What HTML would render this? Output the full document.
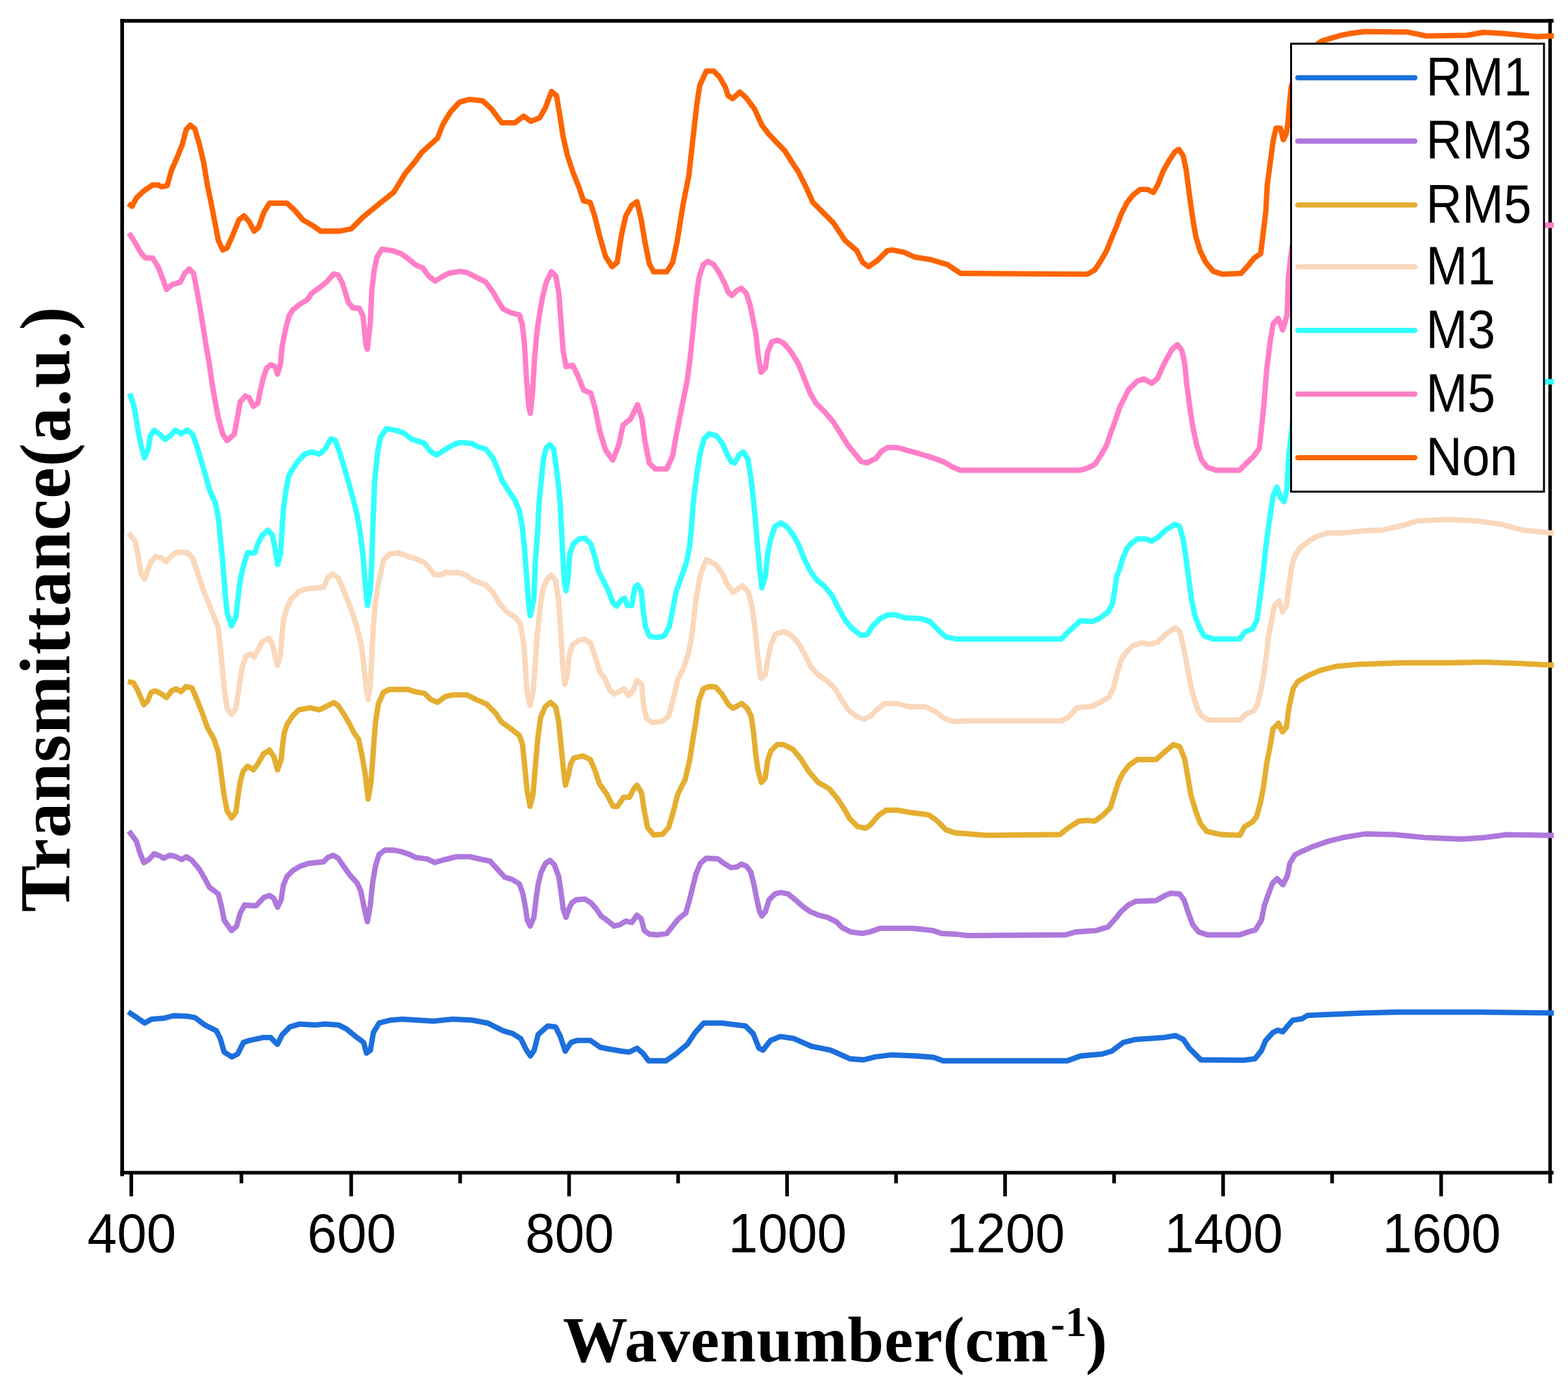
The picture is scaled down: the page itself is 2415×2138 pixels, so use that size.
<!DOCTYPE html>
<html><head><meta charset="utf-8"><title>FTIR spectra</title>
<style>html,body{margin:0;padding:0;background:#fff}body{width:2415px;height:2138px;overflow:hidden}svg{display:block}</style>
</head><body>
<svg width="2415" height="2138" viewBox="0 0 2415 2138">
<style>
.tk{font-family:"Liberation Sans",Arial,sans-serif;font-size:85px;fill:#000}
.lg{font-family:"Liberation Sans",Arial,sans-serif;font-size:77px;fill:#000}
.ttl{font-family:"Liberation Serif","Times New Roman",serif;font-weight:bold;fill:#000}
</style>
<rect width="2415" height="2138" fill="#fff"/>
<g fill="#000"><rect x="185.3" y="29.3" width="2207.5" height="5.6"/><rect x="185.3" y="1803.6" width="2207.5" height="5.5"/><rect x="185.3" y="29.3" width="5.7" height="1782.4"/><rect x="2384.7" y="29.3" width="5.4" height="1779.7"/></g>
<polyline points="201.0,1560.9 207.9,1565.4 222.8,1575.8 233.3,1569.8 252.7,1568.3 267.6,1564.5 288.5,1565.4 300.4,1567.5 315.3,1578.8 333.2,1587.7 339.2,1599.7 345.2,1620.6 357.1,1628.0 366.0,1623.6 375.0,1605.7 384.0,1602.7 404.9,1598.2 416.8,1598.2 427.2,1608.6 434.7,1593.7 446.6,1581.8 461.6,1577.3 485.4,1578.8 500.4,1577.3 521.2,1578.8 533.2,1584.8 548.1,1596.7 560.0,1605.7 564.5,1622.1 570.5,1617.6 575.0,1590.7 583.9,1575.8 601.8,1571.3 619.7,1569.8 667.5,1572.8 697.3,1569.8 727.2,1571.3 751.0,1575.8 774.9,1587.7 790.0,1592.2 801.9,1599.7 810.9,1617.6 816.9,1626.5 822.8,1617.6 828.8,1593.7 843.7,1580.3 855.7,1581.8 863.1,1596.7 870.6,1619.1 879.5,1605.7 888.5,1602.7 909.4,1602.7 924.3,1613.1 939.2,1616.1 957.1,1619.1 969.1,1620.6 981.0,1614.6 989.9,1622.1 998.9,1634.0 1025.7,1634.0 1040.7,1623.6 1058.6,1608.6 1070.5,1590.7 1083.9,1575.8 1112.3,1575.8 1148.1,1580.3 1160.0,1592.2 1169.0,1614.6 1175.0,1617.6 1186.9,1602.7 1201.8,1596.7 1222.7,1599.7 1249.6,1611.6 1279.4,1617.6 1309.3,1631.0 1330.1,1632.5 1348.0,1628.0 1371.9,1625.0 1390.0,1625.6 1410.9,1626.5 1437.7,1628.6 1452.7,1634.0 1643.7,1634.0 1664.5,1626.5 1697.4,1623.6 1712.3,1619.1 1730.2,1605.7 1748.1,1601.2 1792.9,1598.2 1810.8,1595.2 1822.7,1601.2 1831.7,1614.6 1849.6,1632.5 1915.2,1633.1 1932.8,1630.9 1942.8,1618.3 1949.1,1603.1 1960.5,1590.5 1968.0,1586.8 1975.6,1589.3 1983.1,1580.5 1990.7,1571.7 2005.8,1569.1 2013.4,1564.1 2041.1,1562.8 2101.6,1560.3 2152.0,1559.0 2278.0,1559.0 2389.0,1560.3" fill="none" stroke="#1c6fdc" stroke-width="8.3" stroke-linejoin="round" stroke-linecap="square"/><polyline points="201.0,1283.6 210.3,1296.0 214.8,1311.8 221.5,1328.6 229.4,1324.1 237.3,1315.1 246.3,1318.5 251.9,1321.9 262.0,1317.4 271.0,1319.6 280.0,1324.1 286.8,1319.6 295.8,1325.3 307.0,1338.8 316.0,1354.5 322.8,1366.9 336.3,1377.0 340.8,1395.0 345.3,1417.5 356.5,1433.3 364.4,1426.5 370.0,1406.3 376.8,1393.9 388.0,1395.0 394.8,1395.0 406.0,1382.7 415.0,1379.3 421.8,1383.8 427.4,1397.3 433.0,1386.0 436.4,1363.5 442.0,1350.0 451.0,1341.0 462.3,1334.3 475.8,1329.8 498.3,1327.5 505.0,1320.8 513.0,1317.4 520.8,1321.9 527.6,1332.0 538.8,1347.8 550.0,1360.1 555.7,1372.5 560.2,1395.0 565.8,1419.8 570.3,1395.0 573.7,1361.3 578.2,1334.3 583.8,1316.3 592.8,1309.5 606.3,1309.5 617.6,1311.8 631.1,1316.3 640.0,1320.8 658.0,1323.0 669.3,1328.6 685.0,1324.1 703.0,1319.6 723.3,1319.6 743.5,1324.1 754.8,1326.4 766.0,1338.8 777.3,1351.1 788.5,1354.5 799.8,1361.3 805.4,1377.0 808.8,1395.0 812.2,1417.5 816.7,1426.5 822.3,1413.0 825.7,1383.8 829.0,1361.3 833.5,1343.3 840.3,1329.8 847.0,1325.3 853.8,1332.0 860.5,1350.0 863.9,1372.5 867.3,1399.5 871.8,1413.0 876.3,1399.5 880.8,1390.5 887.5,1386.0 901.0,1384.9 910.0,1390.5 918.0,1399.5 925.8,1410.8 934.8,1417.5 946.0,1426.5 955.0,1424.3 964.0,1418.7 973.0,1421.0 981.0,1409.7 987.7,1415.3 992.2,1433.3 1000.0,1439.0 1013.6,1440.0 1027.0,1437.8 1036.0,1426.5 1045.0,1415.3 1056.3,1406.3 1062.0,1386.0 1067.6,1363.5 1072.1,1345.5 1078.8,1329.8 1087.8,1321.9 1105.8,1323.0 1114.8,1329.8 1126.0,1336.5 1135.0,1335.4 1141.8,1330.9 1149.6,1334.3 1156.4,1343.3 1160.9,1361.3 1165.4,1383.8 1169.9,1404.0 1173.3,1410.8 1178.9,1404.0 1184.5,1386.0 1193.5,1377.0 1202.5,1374.8 1213.8,1377.0 1225.0,1386.0 1236.3,1396.2 1247.5,1404.0 1261.0,1409.7 1274.5,1413.0 1288.0,1419.8 1297.0,1428.8 1310.5,1435.5 1328.5,1437.8 1339.8,1435.5 1355.6,1429.9 1405.0,1429.9 1416.3,1431.0 1436.6,1433.3 1450.0,1437.8 1472.6,1439.0 1490.6,1441.2 1641.3,1440.0 1657.0,1435.5 1688.5,1433.3 1706.5,1427.7 1717.8,1415.3 1726.8,1404.0 1738.0,1393.9 1749.3,1388.3 1780.8,1387.2 1794.3,1379.3 1803.3,1375.9 1816.8,1377.0 1823.6,1386.0 1830.3,1406.3 1837.0,1424.3 1846.0,1435.5 1859.6,1440.0 1909.0,1440.0 1922.6,1435.5 1933.8,1432.2 1942.8,1417.5 1947.3,1395.0 1953.0,1378.8 1959.9,1360.4 1966.8,1353.5 1976.0,1362.7 1982.9,1348.9 1986.3,1330.5 1994.4,1316.7 2003.6,1312.1 2022.0,1304.0 2045.0,1296.0 2068.0,1290.2 2102.5,1284.5 2148.4,1285.6 2194.4,1290.2 2252.0,1292.5 2286.4,1290.2 2320.9,1285.6 2389.0,1286.8" fill="none" stroke="#ae78dc" stroke-width="8.3" stroke-linejoin="round" stroke-linecap="square"/><polyline points="201.0,1050.8 205.8,1052.0 212.5,1064.3 221.5,1085.7 227.1,1080.0 232.8,1066.5 239.5,1064.3 248.5,1068.8 256.4,1074.4 264.3,1064.3 271.0,1061.0 278.9,1065.4 286.8,1057.5 295.8,1059.8 302.5,1075.5 311.5,1098.0 319.4,1120.5 329.5,1138.5 336.3,1158.8 340.8,1192.6 345.3,1226.3 349.8,1248.8 356.5,1260.0 363.3,1251.0 366.7,1226.3 370.0,1203.8 374.5,1188.0 381.3,1180.2 390.3,1185.8 397.0,1176.8 406.0,1161.0 415.0,1155.4 421.8,1165.6 427.4,1185.8 433.0,1170.0 435.3,1147.6 437.6,1129.5 442.0,1116.0 451.0,1102.5 460.0,1093.5 478.0,1090.2 491.6,1093.5 505.0,1086.8 514.0,1082.3 520.8,1086.8 529.8,1100.3 538.8,1116.0 545.6,1129.5 552.3,1138.5 558.0,1165.6 562.5,1192.6 567.0,1230.8 571.5,1203.8 574.8,1158.8 578.2,1113.8 582.7,1084.5 590.6,1066.5 599.6,1062.0 628.8,1062.0 640.0,1065.7 653.9,1068.0 663.2,1077.3 673.7,1081.9 686.4,1072.6 698.0,1070.3 718.9,1070.3 732.8,1077.3 749.1,1084.2 763.0,1098.1 772.3,1112.1 788.5,1123.7 800.1,1133.0 804.8,1146.9 808.3,1181.7 811.7,1216.5 816.4,1242.0 821.0,1223.5 824.5,1181.7 828.0,1139.9 832.6,1105.1 839.6,1088.9 847.7,1081.9 855.8,1088.9 860.5,1112.1 864.0,1146.9 867.4,1181.7 870.9,1209.5 875.5,1193.3 879.0,1177.0 883.7,1167.8 897.6,1164.3 909.2,1170.0 916.2,1186.3 923.1,1207.2 934.7,1223.5 944.0,1242.0 951.0,1242.0 960.3,1228.1 969.5,1228.1 975.3,1216.5 981.1,1209.5 988.1,1221.1 992.7,1251.3 997.4,1274.5 1006.7,1286.1 1020.6,1285.0 1029.9,1274.5 1036.8,1251.3 1043.8,1223.5 1055.4,1200.3 1062.4,1170.0 1067.0,1139.9 1071.6,1112.1 1076.3,1079.6 1083.3,1061.0 1092.5,1057.5 1102.2,1058.2 1111.9,1069.1 1121.6,1084.9 1128.9,1091.0 1142.3,1083.7 1150.8,1091.0 1156.9,1103.1 1160.5,1127.4 1164.2,1163.9 1167.8,1188.2 1172.7,1205.2 1178.7,1198.0 1182.4,1171.2 1187.3,1156.6 1197.0,1146.9 1206.7,1146.9 1221.3,1154.2 1233.4,1168.8 1245.6,1188.2 1260.2,1205.2 1277.2,1215.0 1289.4,1229.6 1299.1,1244.1 1308.8,1261.2 1321.0,1273.3 1333.1,1275.8 1340.4,1270.9 1352.6,1256.3 1364.7,1247.8 1381.8,1247.8 1401.2,1251.4 1430.4,1255.1 1442.5,1263.6 1457.1,1278.2 1471.7,1283.0 1491.2,1284.3 1517.9,1286.7 1632.4,1285.5 1644.5,1275.8 1661.6,1264.8 1673.7,1263.6 1685.9,1264.8 1698.0,1256.3 1710.2,1244.1 1716.3,1224.7 1722.4,1205.2 1729.6,1190.7 1739.4,1178.5 1751.5,1170.0 1780.7,1170.0 1792.9,1159.0 1807.4,1146.9 1817.2,1150.5 1824.5,1168.8 1829.3,1195.5 1834.2,1224.7 1841.5,1249.0 1848.8,1268.5 1858.5,1280.6 1880.4,1285.5 1909.6,1286.7 1916.9,1273.3 1929.0,1266.0 1935.1,1258.7 1941.2,1236.9 1946.0,1212.5 1950.9,1176.0 1955.8,1151.8 1960.6,1122.6 1969.1,1114.0 1975.2,1127.4 1981.3,1120.2 1985.0,1091.0 1989.8,1069.1 1992.0,1060.0 1999.0,1049.7 2015.0,1040.5 2033.5,1032.5 2056.5,1026.7 2091.0,1023.3 2160.0,1021.0 2229.0,1021.0 2286.4,1019.8 2344.0,1022.1 2389.0,1024.4" fill="none" stroke="#e4ae30" stroke-width="8.3" stroke-linejoin="round" stroke-linecap="square"/><polyline points="201.0,824.5 208.0,833.5 212.5,853.8 217.0,883.0 222.6,892.0 228.3,876.3 232.8,865.0 239.5,857.2 248.5,859.4 255.3,865.0 264.3,856.0 272.1,850.4 289.0,851.5 295.8,858.3 302.5,876.3 311.5,904.5 320.5,927.0 329.5,949.5 336.3,967.5 339.7,1001.3 343.0,1035.0 346.4,1068.8 349.8,1091.3 356.5,1100.3 363.3,1091.3 366.7,1068.8 370.0,1046.3 373.4,1026.0 379.0,1010.3 385.8,1007.0 391.4,1012.5 397.0,1001.3 403.8,988.9 413.9,983.3 419.5,992.3 424.0,1012.5 427.4,1025.0 432.0,1008.0 434.2,978.8 436.4,956.3 441.0,938.3 448.8,922.5 460.0,911.3 473.6,906.8 498.3,904.5 505.0,889.8 511.8,884.2 520.8,889.8 527.6,905.6 534.3,922.5 543.3,945.0 550.0,967.5 556.8,994.5 560.2,1023.8 563.6,1057.5 567.0,1077.8 570.3,1057.5 572.6,1012.5 574.8,967.5 578.2,927.0 582.7,900.0 590.6,862.8 599.6,853.8 613.0,851.5 628.8,857.2 640.0,860.5 653.5,866.2 660.3,874.0 669.3,885.3 680.5,885.3 685.0,882.0 707.5,882.0 718.8,886.4 730.0,894.3 748.0,901.0 759.3,912.3 768.3,928.0 779.5,941.6 793.0,950.6 801.0,959.6 804.3,977.6 807.1,996.0 809.4,1030.8 811.7,1065.7 816.4,1086.5 821.0,1065.7 824.5,1019.2 828.0,972.8 831.5,938.0 836.1,907.8 841.9,894.0 848.9,885.8 855.8,894.0 860.5,926.4 864.0,977.5 866.3,1019.2 869.7,1054.0 873.2,1042.5 876.7,1010.0 881.4,993.7 890.6,986.8 899.9,984.4 909.2,990.2 916.2,1010.0 923.1,1033.2 932.4,1047.1 939.4,1063.3 946.3,1069.1 961.4,1061.0 968.4,1071.5 975.3,1063.3 981.1,1048.3 988.1,1054.0 991.6,1088.9 996.2,1107.4 1005.5,1113.2 1020.6,1110.9 1029.9,1102.8 1036.8,1077.3 1043.8,1047.1 1053.1,1028.5 1060.0,1007.6 1064.7,984.4 1068.2,956.6 1071.6,926.4 1076.3,898.6 1079.8,882.3 1087.8,862.0 1102.2,869.7 1111.9,881.9 1119.2,898.9 1128.9,912.3 1143.5,902.5 1152.0,911.0 1158.1,933.0 1163.0,969.4 1166.6,1005.9 1171.4,1044.8 1178.7,1039.9 1182.4,1015.6 1187.3,993.7 1194.5,976.7 1206.7,973.0 1216.4,976.7 1228.6,988.9 1238.3,1005.9 1248.0,1025.3 1257.8,1037.5 1274.8,1049.6 1287.0,1061.8 1296.7,1078.8 1306.4,1093.4 1318.5,1103.1 1330.7,1108.0 1340.4,1103.1 1350.1,1093.4 1362.3,1083.7 1381.8,1083.7 1398.8,1088.5 1425.5,1088.5 1440.1,1095.8 1454.7,1106.8 1469.3,1111.6 1488.7,1110.4 1634.8,1110.4 1644.5,1105.6 1659.1,1089.8 1681.0,1088.5 1695.6,1081.3 1707.8,1074.0 1715.0,1059.4 1721.1,1035.0 1727.2,1015.6 1734.5,1004.7 1744.2,995.0 1758.8,990.0 1771.0,992.5 1783.1,988.9 1795.3,976.7 1809.9,967.0 1817.2,973.0 1822.0,993.7 1826.9,1018.0 1831.8,1044.8 1836.6,1066.7 1843.9,1091.0 1851.2,1103.1 1861.0,1109.2 1909.6,1109.2 1919.3,1099.5 1931.4,1094.6 1936.3,1086.1 1941.2,1066.7 1946.0,1042.3 1950.9,1005.9 1953.3,981.6 1958.2,957.3 1963.0,933.0 1970.3,925.6 1975.2,942.7 1981.3,933.0 1985.0,903.8 1987.5,886.5 1989.8,870.4 1994.4,856.6 2001.3,845.0 2012.8,835.9 2026.6,826.7 2045.0,821.0 2068.0,821.0 2102.5,817.5 2130.0,816.3 2160.0,809.4 2183.0,802.5 2229.0,800.2 2275.0,802.5 2309.4,807.1 2344.0,816.3 2389.0,821.0" fill="none" stroke="#fad8bc" stroke-width="8.3" stroke-linejoin="round" stroke-linecap="square"/><polyline points="201.0,610.0 205.8,623.6 209.0,640.0 212.5,662.5 217.0,685.0 222.6,705.3 228.3,691.8 231.6,671.5 237.3,662.5 246.3,669.3 254.0,677.0 262.0,671.5 270.0,662.5 278.9,668.0 289.0,662.5 296.9,669.3 302.5,685.0 309.3,707.5 316.0,730.0 322.8,754.8 331.8,775.0 336.3,797.5 339.7,831.3 343.0,865.0 346.4,910.0 349.8,943.8 356.5,964.0 363.3,950.6 367.8,910.0 371.2,887.5 376.8,865.0 381.3,851.5 392.5,851.5 397.0,838.0 403.8,824.5 412.8,816.7 419.5,824.5 424.0,847.0 427.4,869.5 432.0,853.8 434.2,820.0 436.4,786.3 439.8,759.3 444.3,734.5 448.8,725.5 457.8,712.0 469.0,699.6 480.3,696.3 491.6,699.6 500.6,691.8 509.6,676.0 516.3,678.3 523.0,696.3 529.8,718.8 537.7,745.8 544.4,770.5 550.0,793.0 554.6,820.0 559.0,853.8 562.5,898.8 565.8,932.6 570.3,910.0 572.6,865.0 574.8,797.5 577.0,741.3 581.6,696.3 586.0,673.8 595.0,660.3 608.6,662.5 622.0,667.0 633.3,676.0 640.0,678.3 653.5,682.8 662.5,695.1 672.6,700.8 685.0,692.9 698.5,685.0 707.5,681.6 725.5,682.8 736.8,688.4 748.0,691.8 759.3,705.3 766.0,721.0 772.8,739.0 784.0,757.0 793.0,770.5 799.8,786.3 804.3,811.0 807.7,842.5 811.0,887.5 814.4,932.6 816.7,948.3 822.3,921.3 824.5,865.0 828.0,820.0 830.2,775.0 833.5,741.3 837.0,707.5 841.4,689.5 847.0,685.0 852.7,691.8 856.0,714.3 859.4,741.3 862.8,775.0 865.0,820.0 867.3,865.0 869.5,898.8 871.8,910.0 875.2,887.5 877.4,853.8 883.0,838.0 892.0,830.2 901.0,829.0 910.0,838.0 915.7,856.0 921.3,878.5 930.3,896.6 937.0,910.0 943.8,928.0 949.4,933.7 957.3,923.6 961.8,921.3 966.3,932.6 973.0,932.6 977.6,905.6 982.0,901.0 987.7,910.0 991.0,943.8 994.5,966.3 1000.0,979.8 1011.3,982.0 1022.6,979.8 1030.5,966.3 1036.0,939.3 1041.7,910.0 1047.3,894.3 1054.0,876.3 1057.5,865.0 1062.0,842.5 1065.3,808.8 1067.6,775.0 1071.0,748.0 1074.3,723.3 1078.8,696.3 1084.4,676.0 1092.3,668.1 1103.5,671.5 1112.5,682.8 1119.3,698.5 1126.0,711.0 1131.6,713.1 1138.4,700.8 1145.0,696.3 1151.9,707.5 1156.4,734.5 1159.8,763.8 1163.1,797.5 1166.5,838.0 1169.9,876.3 1173.3,905.6 1178.9,887.5 1182.3,853.8 1186.8,831.3 1193.5,811.0 1202.5,805.4 1211.5,811.0 1220.5,822.3 1229.5,838.0 1238.5,860.5 1247.5,878.5 1256.5,892.0 1270.0,903.3 1281.3,916.8 1290.3,934.8 1301.5,955.0 1312.8,968.6 1326.3,978.7 1335.3,977.6 1344.3,964.0 1355.6,952.8 1366.8,947.2 1380.3,947.2 1393.8,951.7 1418.6,952.8 1432.0,957.3 1445.6,970.8 1456.8,981.0 1472.6,984.3 1634.5,984.3 1645.8,973.0 1663.8,956.2 1681.8,957.3 1693.0,952.8 1706.5,942.7 1713.3,930.3 1716.7,910.0 1720.0,887.5 1724.5,876.3 1729.0,860.5 1735.8,844.8 1742.5,837.0 1751.5,830.2 1765.0,830.2 1774.0,833.5 1783.0,828.0 1796.6,815.5 1810.0,807.7 1816.8,811.0 1822.4,831.3 1825.8,853.8 1830.3,887.5 1834.8,921.3 1840.4,948.3 1848.3,968.6 1855.0,979.8 1868.6,984.3 1909.0,984.3 1918.0,973.0 1929.3,968.6 1936.0,955.0 1940.6,921.3 1945.0,887.5 1949.6,842.5 1954.0,808.8 1957.5,786.3 1960.8,763.8 1966.5,750.3 1972.0,766.0 1977.7,772.8 1982.2,752.5 1984.5,707.5 1986.7,687.3 1992.0,640.0 2010.0,600.0 2050.0,590.0 2389.0,588.0" fill="none" stroke="#33ffff" stroke-width="8.3" stroke-linejoin="round" stroke-linecap="square"/><polyline points="201.0,362.5 208.0,373.8 217.0,389.5 223.8,397.4 235.0,397.4 244.0,412.0 250.8,430.0 256.4,445.8 264.3,439.0 277.8,434.5 284.5,421.0 291.3,414.3 298.0,421.0 302.5,443.5 308.2,475.0 312.6,502.0 317.2,531.3 321.7,556.0 326.2,587.5 330.7,614.6 336.3,643.8 343.0,668.6 349.8,678.7 361.0,668.6 365.5,643.8 370.0,619.0 378.0,610.0 383.5,612.3 390.3,625.8 397.0,621.3 401.5,598.8 406.0,580.8 410.5,567.3 417.3,561.7 424.0,565.0 427.4,576.3 432.0,560.5 434.2,535.8 437.6,517.8 441.0,502.0 445.4,486.3 451.0,477.3 462.3,468.3 473.6,461.5 480.3,451.4 491.6,443.5 502.8,434.5 514.0,422.0 520.8,423.3 527.6,436.8 536.6,466.0 543.3,474.0 553.5,475.0 559.0,486.3 563.6,531.3 565.8,538.0 570.3,497.5 572.6,448.0 576.0,418.8 580.5,396.3 588.3,383.9 604.0,386.0 617.6,390.6 628.8,398.5 640.0,408.0 651.3,412.9 660.3,425.3 670.4,433.1 680.5,426.4 691.8,420.8 707.5,418.0 718.8,419.6 734.5,427.5 748.0,434.3 759.3,450.0 768.3,465.8 775.0,475.9 786.3,481.5 799.8,484.9 804.3,499.5 807.7,528.8 811.0,585.0 814.4,625.6 816.7,636.8 820.0,607.6 823.4,551.3 826.8,513.0 831.3,481.5 835.8,456.8 841.4,434.3 849.3,418.5 856.0,425.3 860.5,450.0 864.0,495.0 867.3,540.0 871.8,564.8 882.0,562.5 889.8,578.3 898.8,600.8 910.0,605.3 916.8,630.0 923.6,663.8 932.6,693.0 943.8,708.8 952.8,686.3 959.6,654.8 970.8,645.8 982.0,623.3 988.8,645.8 993.3,679.6 1000.0,713.3 1009.0,722.3 1027.0,722.3 1036.0,702.0 1042.8,663.8 1051.8,618.8 1058.6,585.0 1063.0,551.3 1067.6,506.3 1072.0,461.3 1076.6,427.5 1083.3,407.3 1090.0,402.8 1099.0,407.0 1108.0,420.5 1117.0,438.5 1121.5,449.8 1127.1,455.4 1135.0,447.5 1141.8,444.1 1149.6,452.0 1155.3,470.0 1159.8,492.5 1164.3,515.0 1167.6,546.5 1172.1,573.5 1178.9,566.8 1182.3,542.0 1189.0,526.3 1198.0,524.0 1207.0,528.5 1218.3,542.0 1229.5,560.0 1238.5,582.5 1247.5,605.0 1256.5,620.8 1270.0,634.3 1283.5,650.0 1294.8,668.0 1306.0,686.0 1317.3,699.6 1326.3,710.8 1335.3,713.0 1348.8,706.3 1357.8,695.0 1366.8,689.4 1382.6,689.4 1398.3,693.9 1418.6,699.6 1436.6,705.2 1454.6,712.0 1468.0,719.8 1479.3,724.3 1663.8,724.3 1675.0,721.0 1686.3,715.3 1695.3,701.8 1704.3,686.0 1711.0,665.8 1717.8,647.8 1724.5,627.5 1731.3,614.0 1738.0,600.5 1751.5,587.0 1761.7,583.7 1774.0,590.4 1783.0,582.5 1789.8,566.8 1796.6,553.3 1805.6,537.5 1813.4,530.8 1820.2,539.8 1824.7,560.0 1828.0,593.8 1832.6,627.5 1837.0,656.8 1842.7,683.8 1850.6,708.6 1859.6,719.8 1873.0,724.3 1909.0,724.3 1920.3,713.0 1931.6,701.8 1939.5,690.6 1942.8,661.3 1947.3,616.3 1950.7,571.3 1956.3,526.3 1960.8,499.3 1968.7,490.3 1975.5,508.3 1982.2,485.8 1984.5,425.0 1990.0,380.0 2010.0,355.0 2050.0,347.0 2389.0,347.0" fill="none" stroke="#ff7fc8" stroke-width="8.3" stroke-linejoin="round" stroke-linecap="square"/><polyline points="201.0,316.0 203.5,317.7 210.0,305.0 221.5,294.0 235.0,285.0 244.0,285.0 248.5,287.7 257.5,286.0 264.0,262.5 273.0,242.0 281.0,222.0 286.8,199.5 293.0,192.8 300.0,198.4 307.0,222.0 313.8,251.0 319.4,285.0 325.0,312.0 330.7,341.3 336.3,370.5 343.0,385.0 349.8,381.8 358.8,361.5 367.8,339.0 375.7,332.3 383.5,341.3 391.4,356.0 398.2,350.3 406.0,327.8 415.0,313.0 442.0,313.0 453.3,323.3 466.8,339.0 482.6,348.0 493.8,356.0 523.0,356.0 541.0,352.5 559.0,334.5 583.8,314.3 606.3,296.3 624.3,267.0 640.0,248.0 649.0,235.3 662.5,223.0 673.8,212.8 682.8,190.3 694.0,172.3 707.5,157.6 723.3,153.1 743.5,155.4 757.0,167.8 772.8,189.1 793.0,189.1 806.5,179.0 817.8,186.9 831.3,181.3 840.3,165.5 849.3,140.8 857.2,147.5 862.8,181.3 867.3,210.5 874.0,239.8 883.0,266.8 892.0,289.3 898.8,309.5 909.0,311.8 915.7,332.0 923.6,363.6 932.6,395.0 942.7,410.8 950.6,404.0 957.3,361.3 964.0,332.0 973.0,316.3 981.0,310.7 987.7,338.8 993.3,372.6 1000.0,406.3 1006.8,418.7 1027.0,418.7 1036.0,404.0 1042.8,372.6 1051.8,316.3 1060.8,271.3 1067.6,210.5 1073.2,161.0 1077.7,131.8 1087.8,109.3 1099.0,109.3 1108.0,118.3 1117.0,134.0 1121.5,147.5 1128.3,152.0 1139.5,141.9 1148.5,149.8 1162.0,167.8 1173.3,192.5 1184.5,207.2 1209.3,233.0 1220.5,251.0 1229.5,264.5 1240.8,287.0 1252.0,311.8 1267.8,327.5 1283.5,343.3 1301.5,370.3 1319.5,386.0 1328.5,404.0 1337.5,410.8 1351.0,401.8 1366.8,386.0 1373.6,385.0 1391.6,388.3 1409.6,396.2 1432.0,399.6 1459.0,407.4 1479.3,421.0 1675.0,422.3 1686.3,415.6 1695.3,402.0 1704.3,386.3 1713.3,363.8 1720.0,348.0 1726.8,330.0 1735.8,312.0 1744.8,300.8 1756.0,291.8 1767.3,291.8 1776.3,296.3 1783.0,285.0 1792.0,262.5 1801.0,246.8 1810.0,233.3 1815.7,230.0 1822.4,240.0 1827.0,262.5 1831.4,296.3 1836.0,330.0 1841.6,363.8 1848.3,386.3 1857.3,404.3 1868.6,417.8 1882.0,422.3 1911.3,421.2 1922.6,408.8 1931.6,397.5 1941.7,390.8 1945.0,363.8 1949.6,325.5 1951.8,285.0 1956.3,251.3 1960.8,217.5 1965.3,197.3 1972.0,197.3 1976.6,215.3 1981.0,206.3 1983.5,190.0 1986.5,155.0 1988.8,133.0 1993.0,121.0 2000.0,106.0 2010.0,88.0 2025.0,71.0 2035.0,63.5 2050.3,58.8 2066.0,54.3 2079.5,51.6 2102.0,48.6 2167.3,49.3 2196.6,55.4 2259.6,54.3 2284.3,49.8 2315.8,51.6 2367.6,56.5 2389.0,55.4" fill="none" stroke="#fc6400" stroke-width="8.3" stroke-linejoin="round" stroke-linecap="square"/>
<rect x="199.4" y="1806" width="5.6" height="36.7" fill="#000"/><rect x="369.0" y="1806" width="5.6" height="16.7" fill="#000"/><rect x="538.1" y="1806" width="5.6" height="36.7" fill="#000"/><rect x="705.9" y="1806" width="5.6" height="16.7" fill="#000"/><rect x="873.7" y="1806" width="5.6" height="36.7" fill="#000"/><rect x="1041.6" y="1806" width="5.6" height="16.7" fill="#000"/><rect x="1209.4" y="1806" width="5.6" height="36.7" fill="#000"/><rect x="1377.3" y="1806" width="5.6" height="16.7" fill="#000"/><rect x="1545.2" y="1806" width="5.6" height="36.7" fill="#000"/><rect x="1713.1" y="1806" width="5.6" height="16.7" fill="#000"/><rect x="1881.0" y="1806" width="5.6" height="36.7" fill="#000"/><rect x="2048.9" y="1806" width="5.6" height="16.7" fill="#000"/><rect x="2216.8" y="1806" width="5.6" height="36.7" fill="#000"/><rect x="2384.7" y="1806" width="5.6" height="16.7" fill="#000"/>
<text transform="translate(203.0,1929) scale(0.965,1.01)" text-anchor="middle" class="tk">400</text><text transform="translate(541.7,1929) scale(0.965,1.01)" text-anchor="middle" class="tk">600</text><text transform="translate(877.3,1929) scale(0.965,1.01)" text-anchor="middle" class="tk">800</text><text transform="translate(1213.0,1929) scale(0.965,1.01)" text-anchor="middle" class="tk">1000</text><text transform="translate(1548.8,1929) scale(0.965,1.01)" text-anchor="middle" class="tk">1200</text><text transform="translate(1884.6,1929) scale(0.965,1.01)" text-anchor="middle" class="tk">1400</text><text transform="translate(2220.4,1929) scale(0.965,1.01)" text-anchor="middle" class="tk">1600</text>
<rect x="1988.5" y="67.3" width="389.5" height="690" fill="#fff" stroke="#000" stroke-width="3"/><line x1="1999" y1="119.8" x2="2179" y2="119.8" stroke="#1c6fdc" stroke-width="8.1" stroke-linecap="round"/><text transform="translate(2196.2,146.6) scale(1,1.08)" class="lg">RM1</text><line x1="1999" y1="217.4" x2="2179" y2="217.4" stroke="#ae78dc" stroke-width="8.1" stroke-linecap="round"/><text transform="translate(2196.2,244.2) scale(1,1.08)" class="lg">RM3</text><line x1="1999" y1="315.7" x2="2179" y2="315.7" stroke="#e4ae30" stroke-width="8.1" stroke-linecap="round"/><text transform="translate(2196.2,342.5) scale(1,1.08)" class="lg">RM5</text><line x1="1999" y1="411.0" x2="2179" y2="411.0" stroke="#fad8bc" stroke-width="8.1" stroke-linecap="round"/><text transform="translate(2196.2,437.8) scale(1,1.08)" class="lg">M1</text><line x1="1999" y1="509.0" x2="2179" y2="509.0" stroke="#33ffff" stroke-width="8.1" stroke-linecap="round"/><text transform="translate(2196.2,535.8) scale(1,1.08)" class="lg">M3</text><line x1="1999" y1="607.0" x2="2179" y2="607.0" stroke="#ff7fc8" stroke-width="8.1" stroke-linecap="round"/><text transform="translate(2196.2,633.8) scale(1,1.08)" class="lg">M5</text><line x1="1999" y1="705.0" x2="2179" y2="705.0" stroke="#fc6400" stroke-width="8.1" stroke-linecap="round"/><text transform="translate(2196.2,731.8) scale(1,1.08)" class="lg">Non</text>
<text x="866.8" y="2097" class="ttl" font-size="100" letter-spacing="0.77">Wavenumber(cm</text>
<text x="1618.2" y="2060.5" class="ttl" font-size="66">-</text>
<text x="1640.8" y="2058" class="ttl" font-size="66">1</text>
<text x="1672" y="2097" class="ttl" font-size="100">)</text>
<text transform="translate(107.3,1405) rotate(-90) scale(1,1.02)" class="ttl" font-size="108" letter-spacing="1.26">Transmittance(a.u.)</text>
</svg>
</body></html>
